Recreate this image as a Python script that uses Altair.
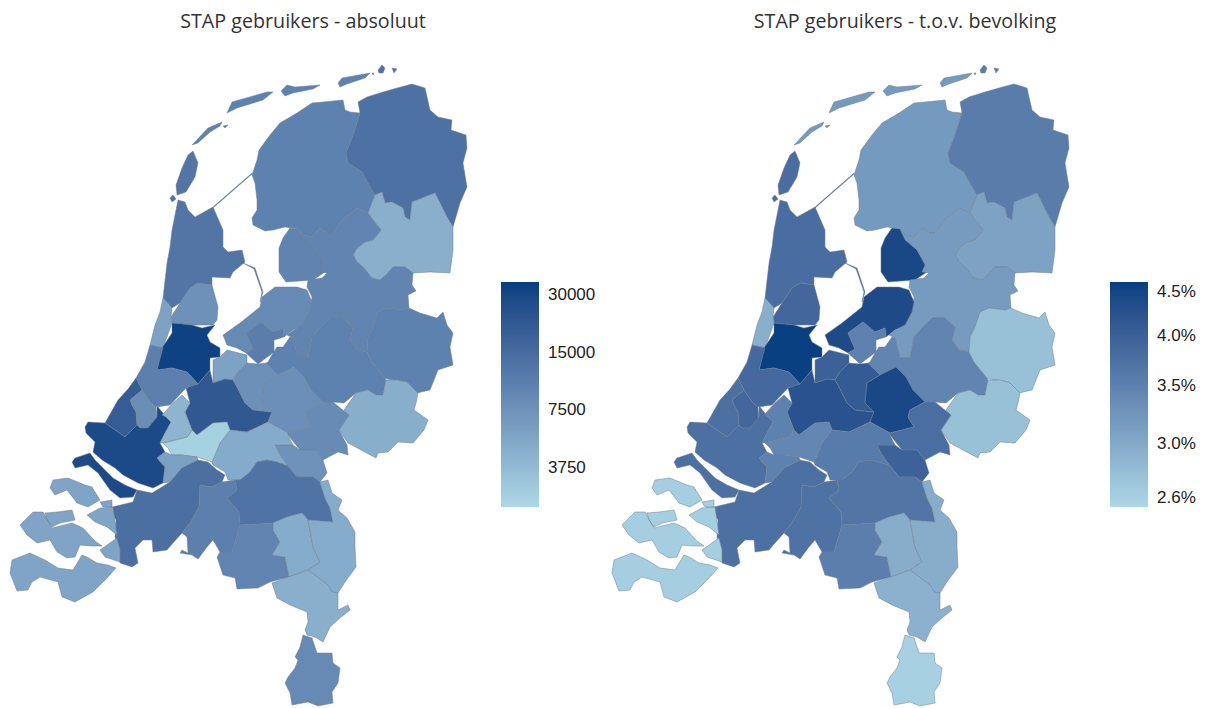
import altair as alt

# ---- region names, read values (left: users, right: % of population) ----
friesland = [[(343,100),(323,102),(312,103),(297,113),(280,123),(270,135),(259,150),(257,160),(253,172),(252,175),(255,183),(257,200),(257,210),(252,218),(253,225),(265,231),(273,230),(285,227),(292,228),(298,229),(303,235),(312,237),(320,228),(327,233),(333,233),(342,220),(357,208),(368,213),(375,195),(368,183),(362,172),(348,163),(346,153),(352,138),(357,123),(360,113),(350,112),(345,110)],
             [(192,145),(208,128),(222,122),(220,126),(210,132),(198,143)],
             [(223,126),(228,125),(225,128)],
             [(227,113),(232,102),(267,92),(273,92),(263,100),(237,108)],
             [(281,91),(287,85),(295,87),(320,85),(313,89),(293,93),(285,96)],
             [(338,83),(342,78),(370,73),(365,78),(347,84),(340,87)]]
groningen = [[(360,113),(358,102),(367,97),(383,92),(397,88),(412,84),(425,88),(430,110),(438,117),(452,120),(451,130),(466,135),(467,148),(463,163),(467,187),(460,203),(453,227),(447,217),(435,193),(412,202),(410,220),(405,217),(403,208),(392,202),(385,203),(382,192),(375,195),(368,183),(362,172),(348,163),(346,153),(352,138),(357,123)],
             [(378,70),(382,65),(385,68),(383,73),(379,73)],
             [(392,68),(397,69),(394,73)],
             [(372,73),(374,73),(373,75)]]
zo_drenthe = [[(375,195),(382,192),(385,203),(392,202),(403,208),(405,217),(410,220),(412,202),(435,193),(447,217),(453,227),(453,250),(450,273),(430,272),(413,273),(405,267),(393,267),(386,275),(380,280),(372,278),(363,267),(357,262),(353,255),(357,248),(365,242),(373,240),(381,230),(373,220),(368,213)]]
polder = [[(290,228),(298,229),(303,238),(315,250),(323,263),(325,272),(313,280),(286,282),(279,272),(279,248),(283,238)]]
overijssel = [[(298,229),(303,235),(312,237),(320,228),(327,233),(333,233),(342,220),(357,208),(368,213),(373,220),(381,230),(373,240),(365,242),(357,248),(353,255),(357,262),(363,267),(372,278),(380,280),(386,275),(393,267),(405,267),(413,273),(412,285),(416,291),(408,295),(409,308),(403,310),(387,308),(378,312),(373,327),(368,337),(367,352),(357,350),(350,340),(353,327),(343,318),(330,318),(320,328),(312,337),(308,358),(298,358),(293,338),(287,335),(297,328),(305,320),(310,308),(312,297),(307,287),(308,280),(322,278),(327,273),(320,272),(323,265),(315,250),(303,240)]]
veluwe = [[(293,338),(298,358),(308,358),(312,337),(320,328),(330,318),(343,318),(353,327),(350,340),(357,350),(367,352),(372,362),(385,378),(386,380),(383,395),(376,395),(368,390),(356,393),(344,403),(333,402),(323,402),(311,390),(304,377),(294,367),(278,375),(266,363),(268,362),(273,353),(277,347),(283,347),(290,337)]]
twente = [[(409,308),(420,313),(437,318),(443,312),(447,325),(453,333),(450,347),(453,365),(438,370),(430,390),(417,393),(407,382),(387,379),(385,378),(372,362),(367,352),(368,337),(373,327),(378,312),(387,308),(403,310)]]
achterhoek = [[(386,380),(398,380),(408,383),(418,393),(416,403),(414,410),(428,420),(424,430),(413,443),(398,442),(388,452),(378,453),(376,458),(361,450),(348,443),(339,430),(348,417),(344,410),(356,393),(368,390),(376,395),(383,395)]]
flevo_main = [[(275,287),(297,287),(307,290),(312,302),(310,312),(303,325),(293,330),(284,337),(283,328),(273,332),(261,322),(246,333),(253,349),(246,353),(237,348),(227,345),(223,335),(240,323),(260,307),(262,297)]]
flevo_south = [[(246,333),(261,322),(273,332),(283,328),(284,337),(274,340),(274,352),(258,364),(246,353),(253,349)]]
noord_holland = [[(178,200),(185,202),(188,210),(195,217),(213,207),(223,230),(223,247),(228,252),(242,250),(245,262),(233,272),(230,278),(212,277),(212,285),(198,283),(190,288),(180,303),(172,308),(163,298),(167,263),(170,247),(172,230)],
                 [(193,151),(198,163),(195,177),(186,192),(177,195),(176,185),(182,168),(188,155)],
                 [(170,198),(173,195),(176,199),(172,202)],
                 [(213,207),(252,173),(252,174),(213,208)],
                 [(243,263),(255,268),(263,292),(260,302),(260,302),(262,292),(254,269)]]
zaan = [[(198,283),(212,285),(218,307),(217,320),(213,325),(192,325),(172,323),(171,317),(180,303),(190,288)]]
haarlem = [[(163,298),(172,308),(171,317),(172,323),(163,348),(150,345),(155,325),(160,312)]]
amsterdam = [[(172,323),(192,325),(202,328),(215,325),(207,335),(210,342),(220,348),(220,357),(210,358),(210,370),(198,384),(187,372),(172,368),(157,370),(162,348),(172,333)]]
gooi = [[(220,357),(227,350),(247,355),(247,363),(238,372),(233,380),(225,379),(213,383),(213,360)]]
utrecht = [[(186,388),(193,385),(198,384),(210,370),(213,383),(225,379),(233,380),(237,387),(245,403),(253,410),(272,412),(268,422),(247,432),(230,430),(227,422),(213,423),(197,435),(192,430),(185,412),(190,403)]]
vallei = [[(233,380),(238,372),(247,363),(258,364),(266,363),(278,375),(265,383),(263,403),(272,412),(253,410),(245,403),(237,387)]]
arnhem_n = [[(265,383),(278,375),(294,367),(304,377),(311,390),(323,402),(308,410),(306,417),(312,427),(288,433),(268,422),(272,412),(263,403)]]
arnhem_z = [[(308,410),(323,402),(333,402),(349,415),(339,430),(347,445),(348,455),(338,452),(323,460),(315,450),(300,450),(288,435),(288,433),(312,427),(306,417)]]
rivieren = [[(275,445),(293,445),(300,450),(315,450),(323,460),(327,473),(320,482),(313,477),(297,477),(288,466),(280,455)]]
betuwe = [[(230,430),(247,432),(268,422),(288,433),(288,435),(293,445),(275,445),(280,455),(288,466),(277,462),(267,460),(257,462),(250,472),(240,480),(228,480),(225,472),(213,465),(212,462),(220,443)]]
lightest = [[(163,443),(187,437),(192,430),(197,435),(213,423),(227,422),(230,430),(220,443),(212,462),(197,457),(182,455),(172,455),(168,448)]]
leiden = [[(136,378),(145,362),(150,345),(163,348),(157,370),(172,368),(187,372),(198,384),(186,388),(170,405),(156,407),(150,402),(142,390)]]
den_haag = [[(105,423),(118,400),(128,389),(136,378),(142,390),(130,400),(132,405),(136,412),(137,425),(125,437)]]
delft = [[(130,400),(142,390),(150,402),(156,407),(157,420),(148,428),(140,428),(137,425),(136,412),(132,405)]]
rotterdam = [[(85,427),(88,422),(105,423),(125,437),(137,425),(140,428),(148,428),(157,417),(157,407),(158,407),(166,417),(171,422),(165,433),(160,443),(165,452),(157,458),(165,467),(163,483),(153,488),(138,483),(123,475),(115,468),(102,460),(93,452),(95,442),(90,437),(86,433)],
             [(72,462),(75,458),(90,453),(95,460),(113,478),(125,485),(137,490),(133,497),(120,498),(110,490),(98,473),(88,465),(75,468)]]
gouda = [[(166,417),(162,415),(173,403),(182,395),(190,403),(185,412),(192,430),(187,437),(163,443),(160,443),(165,433),(171,422)]]
dordrecht = [[(157,458),(165,452),(172,455),(182,455),(197,457),(198,460),(182,468),(170,482),(163,483),(165,467)]]
west_brabant = [[(112,507),(133,502),(137,490),(152,493),(165,485),(170,482),(182,468),(198,460),(208,462),(217,470),(225,475),(222,482),(212,487),(200,485),(199,507),(190,523),(182,533),(173,543),(167,550),(153,552),(152,540),(143,540),(135,548),(138,563),(132,567),(120,563),(120,550),(115,537),(116,520),(112,513)]]
midden_brabant = [[(200,485),(212,487),(222,482),(235,480),(237,490),(227,498),(239,512),(240,525),(232,552),(220,552),(213,540),(207,547),(198,559),(192,555),(180,553),(182,550),(188,553),(187,537),(182,533),(190,523),(199,507)]]
no_brabant = [[(235,480),(240,480),(250,472),(257,462),(267,460),(277,462),(288,466),(297,477),(313,477),(320,482),(325,498),(330,508),(333,522),(308,520),(302,513),(287,517),(273,523),(240,525),(239,512),(227,498),(237,490)]]
zo_brabant = [[(240,525),(273,523),(273,530),(280,542),(272,555),(285,557),(287,567),(289,577),(270,582),(258,588),(237,589),(235,578),(223,575),(217,557),(220,552),(232,552)]]
limburg_nw = [[(273,523),(287,517),(302,513),(308,520),(313,547),(320,562),(308,570),(289,577),(287,567),(285,557),(272,555),(280,542),(273,530)]]
limburg_ne = [[(320,482),(328,480),(332,493),(342,500),(338,510),(347,518),(355,532),(355,547),(356,567),(345,582),(338,593),(332,592),(328,585),(308,570),(320,562),(313,547),(308,520),(333,522),(330,508),(325,498)]]
limburg_m = [[(289,577),(308,570),(328,585),(332,592),(338,593),(338,610),(348,605),(350,610),(340,618),(330,627),(323,642),(315,637),(307,635),(305,630),(308,622),(307,612),(290,605),(277,598),(272,583)]]
limburg_z = [[(303,635),(312,638),(317,653),(332,653),(333,663),(340,668),(338,683),(332,692),(333,703),(318,706),(308,702),(292,705),(290,693),(285,683),(288,677),(295,668),(298,660),(295,657),(300,647)]]
zeeland = [[(50,488),(53,480),(68,478),(85,485),(92,487),(100,500),(88,507),(77,503),(67,490),(55,495)],
           [(100,502),(112,500),(112,507),(103,507)],
           [(45,513),(57,512),(72,510),(75,520),(60,523),(52,527),(47,520)],
           [(20,525),(33,512),(43,512),(52,528),(72,523),(83,528),(95,541),(102,546),(90,546),(80,545),(75,557),(67,558),(57,552),(50,540),(37,543),(27,535)],
           [(87,515),(100,508),(113,507),(117,535),(107,527),(95,522)],
           [(12,560),(30,553),(45,560),(58,568),(73,570),(82,555),(87,557),(97,563),(108,565),(116,568),(107,578),(93,592),(75,602),(62,597),(58,582),(40,577),(32,582),(28,590),(17,591),(10,573)],
           [(100,550),(117,538),(120,550),(120,562),(105,557)]]

regions = ["Friesland","Groningen","ZO-Drenthe","Noordoostpolder","Overijssel-Noord","Veluwe","Twente","Achterhoek",
           "Flevoland","Flevoland-Zuid","Noord-Holland","Zaanstreek","Haarlem","Amsterdam","Gooi","Utrecht","Vallei",
           "Arnhem-Noord","Arnhem-Zuid","Rivierenland","Betuwe","Lek","Leiden","Den Haag","Delft","Rotterdam","Gouda",
           "Dordrecht","West-Brabant","Midden-Brabant","NO-Brabant","ZO-Brabant","Limburg-NW","Limburg-NO","Limburg-Midden",
           "Limburg-Zuid","Zeeland"]
shapes = [friesland,groningen,zo_drenthe,polder,overijssel,veluwe,twente,achterhoek,flevo_main,flevo_south,noord_holland,
          zaan,haarlem,amsterdam,gooi,utrecht,vallei,arnhem_n,arnhem_z,rivieren,betuwe,lightest,leiden,den_haag,delft,
          rotterdam,gouda,dordrecht,west_brabant,midden_brabant,no_brabant,zo_brabant,limburg_nw,limburg_ne,limburg_m,
          limburg_z,zeeland]
absolute = [10000,13500,4600,9800,9600,10000,10000,4700,8700,10800,12500,7700,5700,33000,5700,21500,7800,7900,8500,7500,
            4900,2650,10500,20000,8000,29000,4200,5800,14000,10500,13000,9600,4800,4800,4600,8700,5500]
relative = [3.19,3.58,3.09,4.45,3.18,3.47,2.77,2.77,4.40,3.52,3.80,3.90,2.95,4.60,4.00,4.25,4.10,4.45,3.78,3.98,
            3.60,3.43,3.87,3.75,3.90,3.75,3.50,3.50,3.75,3.72,3.68,3.55,2.97,2.97,2.92,2.60,2.62]

abs_ticks = [3750,7500,15000,30000]
rel_ticks = [2.6,3.0,3.5,4.0,4.5]
LOW, HIGH = "#add8e6", "#053f80"
FONT = "Open Sans"
TITLE_H = 34
GRAD_TOP = 282 - 8 - TITLE_H

def features(values):
    out = []
    for name, polys, v in zip(regions, shapes, values):
        out.append({"type":"Feature",
                    "properties":{"name":name,"value":v},
                    "geometry":{"type":"MultiPolygon",
                                "coordinates":[[[list(p) for p in poly + poly[:1]]] for poly in polys]}})
    return out

def panel(values, title, domain, ticks, tx, legend_x, label_expr):
    return (alt.Chart(alt.Data(values=features(values)), title=alt.TitleParams(
                text=title, font=FONT, fontSize=19.7, fontWeight="normal", color="#333333",
                anchor="middle", offset=10))
        .mark_geoshape(stroke="#6f7f90", strokeWidth=0.5)
        .encode(color=alt.Color("properties.value:Q",
            scale=alt.Scale(type="log", domain=domain, range=[LOW, HIGH], interpolate="lab"),
            legend=alt.Legend(title=None, orient="none", legendX=legend_x, legendY=GRAD_TOP,
                gradientLength=225, gradientThickness=38, gradientStrokeWidth=0,
                values=ticks, labelExpr=label_expr, labelFont="Liberation Sans", labelFontSize=17,
                labelColor="#222222", labelOffset=9, labelOverlap=False)))
        .project(type="identity", scale=1, translate=[tx, -8-TITLE_H])
        .properties(width=590, height=670))

left = panel(absolute, "STAP gebruikers - absoluut", [2350,35100], abs_ticks, -8, 493, "format(datum.value,'d')")
right = panel(relative, "STAP gebruikers - t.o.v. bevolking", [2.54,4.62], rel_ticks, -1, 500, "format(datum.value,'.1f')+'%'")

chart = (alt.hconcat(left, right, spacing=12)
         .resolve_scale(color="independent")
         .properties(padding={"left":0,"right":0,"top":4,"bottom":0})
         .configure_view(stroke=None))
chart.save("out.html", embed_options={"renderer":"svg","actions":False})
